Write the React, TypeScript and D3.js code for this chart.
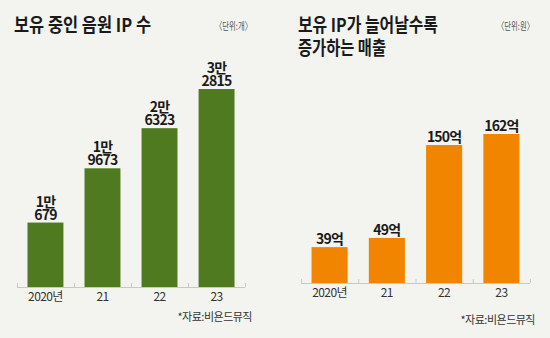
import React from "react";
import * as d3 from "d3";

const categories = ["2020년", "21", "22", "23"];
const ipCounts = [10679, 19673, 26323, 32815];
const ipLabelTop = ["1만", "1만", "2만", "3만"];
const ipLabelBottom = ["679", "9673", "6323", "2815"];
const revenue = [39, 49, 150, 162];
const revenueLabels = ["39억", "49억", "150억", "162억"];

const W = 550;
const H = 338;
const BG = "#f3f4ef";
const GREEN = "#4f7a1f";
const ORANGE = "#f28500";
const FONT = "'Noto Sans CJK KR', 'Noto Sans', sans-serif";

function Panel({ x0, x1, base, top, values, color, labelLines, titleLines, titleW, unit, unitX, sourceX, sourceY }: any) {
  const x = d3.scaleBand<string>().domain(categories).range([x0, x1]).paddingInner(0.37).paddingOuter(0.184);
  const y = d3.scaleLinear().domain([0, d3.max(values as number[])!]).range([base, top]);
  const step = x.step();
  const ticks = categories.map((c) => (x(c) as number) - (step - x.bandwidth()) / 2);
  ticks[0] = x0;
  ticks.push(x1);
  return (
    <g>
      {titleLines.map((t: string, i: number) => (
        <text key={t} x={x0 - 3} y={32 + i * 23} fontFamily={FONT} fontWeight={700} fontSize={19} fill="#1a1a1a" textLength={titleW[i]} lengthAdjust="spacingAndGlyphs">{t}</text>
      ))}
      <text x={unitX} y={30} fontFamily={FONT} fontSize={10.5} fill="#555" textLength={37} lengthAdjust="spacingAndGlyphs">{unit}</text>
      <line x1={x0} x2={x1} y1={base + 0.5} y2={base + 0.5} stroke="#c8c8c4" strokeWidth={1} />
      {ticks.map((t, i) => (
        <line key={i} x1={t + 0.5} x2={t + 0.5} y1={base} y2={base - 4} stroke="#c8c8c4" strokeWidth={1} />
      ))}
      {categories.map((c, i) => {
        const cx = (x(c) as number) + x.bandwidth() / 2;
        const lines: string[] = labelLines[i];
        const firstY = y(values[i]) - 3 - (lines.length - 1) * 13;
        return (
          <g key={c}>
            <rect x={x(c)} y={y(values[i])} width={x.bandwidth()} height={base - y(values[i])} fill={color} />
            <text x={cx} y={firstY} textAnchor="middle" fontFamily={FONT} fontWeight={700} fontSize={14} letterSpacing={-0.8} fill="#1a1a1a">
              {lines.map((l, j) => (
                <tspan key={j} x={cx} dy={j === 0 ? 0 : 13}>{l}</tspan>
              ))}
            </text>
            <text x={cx} y={base + 14} textAnchor="middle" fontFamily={FONT} fontSize={12} letterSpacing={-0.6} fill="#333">{c}</text>
          </g>
        );
      })}
      <text x={sourceX} y={sourceY} textAnchor="end" fontFamily={FONT} fontSize={11} letterSpacing={-0.5} fill="#333">*자료:비욘드뮤직</text>
    </g>
  );
}

export default function App() {
  return (
    <div style={{ position: "fixed", left: 0, top: 0, width: W, height: H }}>
      <svg width={W} height={H} style={{ display: "block" }}>
        <rect width={W} height={H} fill={BG} />
        <Panel
          x0={17} x1={245} base={287} top={89}
          values={ipCounts} color={GREEN}
          labelLines={ipLabelTop.map((t, i) => [t, ipLabelBottom[i]])}
          titleLines={["보유 중인 음원 IP 수"]} titleW={[137]}
          unit="〈단위:개〉" unitX={215}
          sourceX={252} sourceY={321}
        />
        <Panel
          x0={301} x1={530} base={283} top={134}
          values={revenue} color={ORANGE}
          labelLines={revenueLabels.map((t) => [t])}
          titleLines={["보유 IP가 늘어날수록", "증가하는 매출"]} titleW={[140, 88]}
          unit="〈단위:원〉" unitX={497}
          sourceX={535} sourceY={324}
        />
      </svg>
    </div>
  );
}
